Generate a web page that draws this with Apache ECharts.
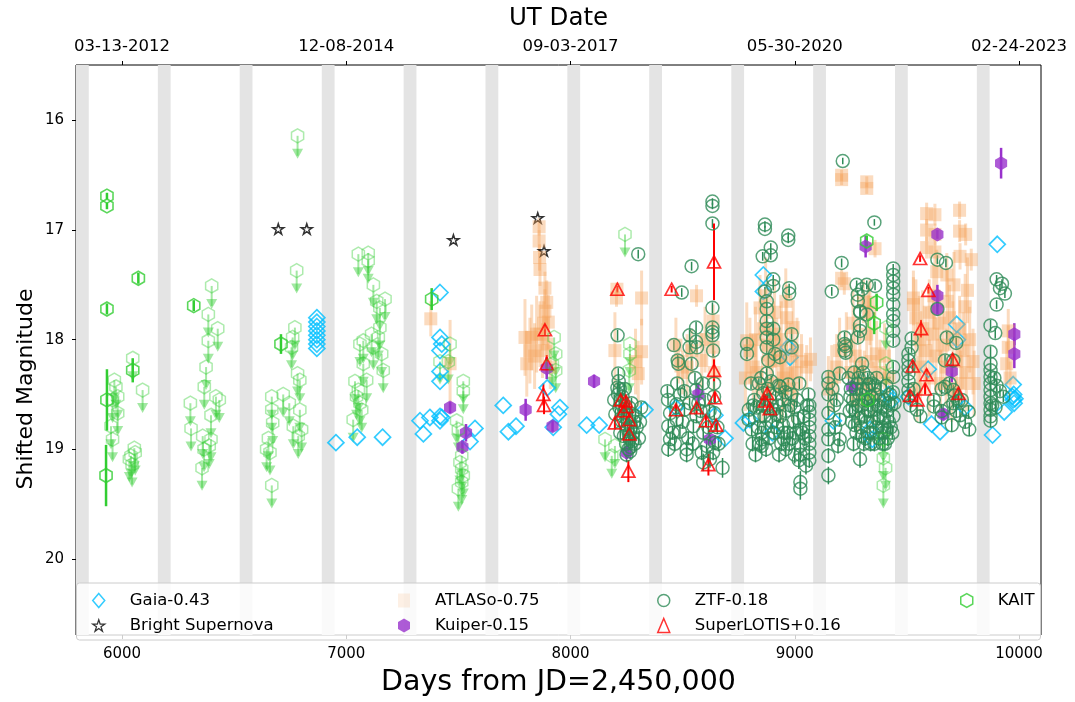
<!DOCTYPE html>
<html>
<head>
<meta charset="utf-8">
<script src="https://cdn.jsdelivr.net/npm/echarts@6/dist/echarts.min.js"></script>
<style>
  html, body { margin: 0; padding: 0; background: #fff; }
  #chart { width: 1075px; height: 702px; }
</style>
</head>
<body>
<div id="chart"></div>
<script>
// axis limits (days from JD 2,450,000 / shifted magnitude)
const xMin = 5795, xMax = 10098;
const yMin = 15.494, yMax = 20.695;

const bottomTicks = [6000, 7000, 8000, 9000, 10000];
const topTickDates = ['03-13-2012', '12-08-2014', '09-03-2017', '05-30-2020', '02-24-2023'];
const magTicks = [16, 17, 18, 19, 20];

// seasonal gaps (start day), each gapLength days wide
const gapStarts = [5795, 6160, 6525, 6891, 7256, 7621, 7986, 8351, 8717, 9082, 9447, 9812];
const gapLength = 57;

// [day, mag]
const gaia = [
  [6869, 17.80], [6869, 17.84], [6869, 17.88], [6869, 17.92], [6869, 17.96], [6869, 18.00], [6869, 18.04], [6869, 18.08],
  [6954, 18.94], [7049, 18.89], [7162, 18.89],
  [7418, 17.57], [7418, 17.98], [7426, 18.04], [7418, 18.10], [7418, 18.29], [7418, 18.38],
  [7329, 18.74], [7344, 18.86], [7373, 18.71], [7418, 18.70], [7418, 18.74], [7426, 18.71], [7574, 18.81], [7552, 18.93],
  [7700, 18.60], [7723, 18.84], [7757, 18.79], [7896, 18.44], [7953, 18.62], [7946, 18.68], [7923, 18.80],
  [8072, 18.78], [8128, 18.78], [8332, 18.64], [8470, 18.62], [8644, 18.69], [8689, 18.90],
  [8860, 17.41], [8860, 17.56], [8971, 18.07], [8979, 18.16], [8800, 18.73], [8771, 18.76], [8900, 18.85],
  [9172, 18.74], [9336, 18.82], [9346, 18.91], [9417, 18.50], [9430, 18.56],
  [9722, 17.86], [9725, 18.00], [9595, 18.27], [9610, 18.77], [9507, 18.52], [9759, 18.62], [9648, 18.84],
  [9903, 17.13], [9882, 18.87], [9934, 18.66], [9974, 18.41], [9970, 18.52], [9974, 18.55], [9978, 18.58], [9982, 18.54], [9976, 18.50]
];

const brightSN = [[6697, 16.99], [6824, 16.99], [7478, 17.09], [7854, 16.89], [7882, 17.19]];

// [day, mag, err]
const atlas = [
  [7377, 17.81, 0.16], [7463, 18.22, 0.40],
  [7860, 16.97, 0.08], [7860, 17.10, 0.10], [7862, 17.25, 0.12], [7864, 17.36, 0.15], [7886, 17.53, 0.15], [7894, 17.66, 0.20],
  [7886, 17.74, 0.20], [7797, 17.98, 0.35], [7819, 18.10, 0.30], [7805, 18.22, 0.30], [7864, 17.95, 0.30], [7901, 17.84, 0.25],
  [7894, 18.04, 0.25], [7849, 17.95, 0.35], [7827, 17.98, 0.30], [7840, 18.15, 0.30], [7875, 18.10, 0.25], [7880, 17.85, 0.20], [7910, 18.25, 0.20],
  [8207, 17.54, 0.06], [8205, 17.62, 0.08], [8198, 18.10, 0.35], [8317, 17.62, 0.25], [8317, 18.11, 0.30], [8302, 18.31, 0.30], [8290, 18.20, 0.30],
  [8481, 18.20, 0.20], [8562, 17.60, 0.10], [8636, 17.83, 0.15], [8636, 18.07, 0.20], [8585, 18.19, 0.25], [8470, 18.05, 0.25],
  [8500, 18.30, 0.20], [8540, 18.10, 0.20], [8600, 18.00, 0.30], [8640, 18.30, 0.20], [8520, 18.25, 0.30],
  [8845, 17.71, 0.30], [8964, 17.80, 0.30], [8993, 17.89, 0.25], [9053, 18.25, 0.20], [8815, 18.25, 0.30], [8786, 18.01, 0.35],
  [8934, 18.19, 0.30], [8964, 18.31, 0.30], [8800, 18.10, 0.30], [8830, 18.30, 0.35], [8860, 17.90, 0.30], [8875, 18.05, 0.30],
  [8890, 18.20, 0.35], [8905, 17.95, 0.30], [8920, 18.10, 0.30], [8940, 18.00, 0.35], [8950, 18.35, 0.30], [8980, 18.15, 0.30],
  [9000, 18.30, 0.30], [9010, 18.10, 0.30], [9030, 18.20, 0.25], [9070, 18.18, 0.20], [8855, 18.45, 0.30], [8900, 18.40, 0.30],
  [8945, 18.45, 0.30], [8990, 18.45, 0.30], [8825, 18.00, 0.30], [8870, 17.60, 0.35], [8910, 17.75, 0.30], [8960, 17.65, 0.30], [8780, 18.35, 0.30],
  [9209, 16.50, 0.05], [9209, 16.54, 0.05], [9321, 16.56, 0.05], [9321, 16.62, 0.05], [9209, 17.44, 0.08], [9358, 17.17, 0.08],
  [9306, 17.65, 0.20], [9321, 17.95, 0.25], [9365, 18.13, 0.30], [9187, 18.25, 0.30], [9165, 18.35, 0.30], [9200, 18.10, 0.30],
  [9230, 18.05, 0.30], [9250, 18.30, 0.30], [9270, 18.15, 0.30], [9290, 18.25, 0.30], [9310, 18.40, 0.30], [9340, 18.20, 0.30],
  [9380, 18.30, 0.30], [9400, 18.15, 0.30], [9420, 18.35, 0.30], [9260, 17.85, 0.30], [9335, 17.75, 0.30], [9350, 18.50, 0.30],
  [9280, 18.55, 0.30], [9150, 18.45, 0.30], [9221, 17.49, 0.10], [9328, 17.66, 0.15],
  [9588, 16.85, 0.10], [9588, 17.00, 0.10], [9588, 17.16, 0.10], [9735, 16.82, 0.08], [9735, 17.01, 0.10], [9737, 17.24, 0.12],
  [9529, 17.62, 0.25], [9529, 17.68, 0.25], [9633, 17.38, 0.20], [9678, 17.41, 0.20], [9625, 16.86, 0.10], [9625, 17.04, 0.10],
  [9625, 17.20, 0.10], [9787, 17.27, 0.10], [9762, 17.04, 0.10],
  [9540, 17.80, 0.35], [9555, 18.00, 0.40], [9570, 17.90, 0.35], [9585, 18.10, 0.40], [9600, 17.75, 0.30], [9615, 17.95, 0.35],
  [9630, 18.15, 0.35], [9645, 17.85, 0.30], [9660, 18.05, 0.35], [9675, 18.25, 0.35], [9690, 17.80, 0.30], [9705, 18.00, 0.35],
  [9720, 18.20, 0.35], [9735, 17.90, 0.30], [9750, 18.10, 0.35], [9765, 18.30, 0.35], [9780, 18.00, 0.30], [9795, 18.20, 0.30],
  [9560, 18.25, 0.35], [9600, 18.35, 0.35], [9650, 18.40, 0.30], [9700, 18.45, 0.30], [9740, 18.40, 0.30], [9620, 17.60, 0.30],
  [9680, 17.65, 0.30], [9760, 17.70, 0.30], [9800, 18.40, 0.30], [9545, 18.45, 0.30], [9770, 17.55, 0.30], [9710, 17.50, 0.30],
  [9952, 17.92, 0.20], [9952, 18.07, 0.20], [9945, 18.22, 0.20], [9960, 18.35, 0.15]
];

const kuiper = [
  [7463, 18.62, 0.05], [7534, 18.85, 0.08], [7518, 18.98, 0.06], [7800, 18.64, 0.10], [7894, 18.26, 0.10], [7920, 18.79, 0.05],
  [8105, 18.38, 0.06], [8250, 19.03, 0.06], [8570, 18.50, 0.10], [8622, 18.91, 0.04],
  [9316, 17.15, 0.10], [9256, 18.43, 0.05],
  [9636, 17.04, 0.04], [9636, 17.60, 0.10], [9636, 17.72, 0.05], [9700, 18.29, 0.10], [9663, 18.68, 0.05],
  [9920, 16.39, 0.14], [9979, 17.95, 0.10], [9979, 18.13, 0.13]
];

const ztf = [
  // 2018 season
  [8302, 17.22, 0.04], [8210, 17.96, 0.05], [8213, 18.31, 0.05], [8215, 18.38, 0.05], [8220, 18.45, 0.05], [8212, 18.50, 0.05],
  [8225, 18.55, 0.05], [8230, 18.60, 0.05], [8218, 18.62, 0.05], [8240, 18.66, 0.05], [8235, 18.70, 0.05], [8228, 18.74, 0.05],
  [8245, 18.78, 0.06], [8250, 18.72, 0.05], [8255, 18.82, 0.06], [8260, 18.86, 0.06], [8265, 18.90, 0.06], [8270, 18.80, 0.05],
  [8275, 18.93, 0.06], [8248, 18.95, 0.06], [8258, 19.00, 0.07], [8268, 18.98, 0.07], [8280, 18.85, 0.06], [8285, 18.75, 0.05],
  [8290, 18.70, 0.05], [8222, 18.85, 0.06], [8238, 18.88, 0.06], [8262, 18.62, 0.05], [8272, 18.58, 0.05], [8276, 18.68, 0.05],
  [8209, 18.44, 0.05], [8232, 18.52, 0.05], [8242, 18.45, 0.05], [8286, 18.95, 0.06], [8295, 18.80, 0.06], [8250, 19.05, 0.07],
  [8266, 19.02, 0.07], [8195, 18.55, 0.05], [8200, 18.68, 0.05], [8310, 18.75, 0.05], [8315, 18.62, 0.05], [8305, 18.90, 0.06],
  // 2019 season
  [8540, 17.33, 0.04], [8633, 16.74, 0.03], [8633, 16.78, 0.03], [8633, 16.94, 0.04], [8496, 17.57, 0.04], [8560, 17.89, 0.05],
  [8531, 17.96, 0.05], [8560, 18.02, 0.05], [8531, 18.07, 0.05], [8564, 18.07, 0.05], [8461, 18.05, 0.05], [8478, 18.19, 0.05],
  [8481, 18.22, 0.05], [8540, 18.22, 0.05], [8432, 18.47, 0.05], [8476, 18.40, 0.05], [8508, 18.47, 0.05], [8560, 18.46, 0.05],
  [8473, 18.59, 0.05], [8444, 18.67, 0.06], [8436, 18.79, 0.06], [8444, 18.91, 0.06], [8436, 19.00, 0.07], [8488, 18.84, 0.06],
  [8525, 18.90, 0.06], [8518, 19.00, 0.07], [8518, 19.05, 0.07], [8562, 18.70, 0.06], [8592, 18.85, 0.06], [8607, 18.97, 0.07],
  [8585, 19.03, 0.07], [8592, 19.12, 0.08], [8633, 17.71, 0.05], [8633, 17.89, 0.05], [8633, 17.93, 0.05], [8633, 17.96, 0.05],
  [8636, 18.10, 0.05], [8640, 18.40, 0.05], [8640, 18.52, 0.05], [8641, 18.67, 0.06], [8636, 19.03, 0.07], [8678, 19.17, 0.09],
  [8622, 19.09, 0.08], [8644, 18.94, 0.07], [8435, 18.55, 0.05], [8473, 18.73, 0.06], [8548, 18.79, 0.06], [8531, 18.58, 0.05],
  [8508, 18.64, 0.06], [8570, 18.58, 0.05], [8455, 18.85, 0.06], [8500, 18.75, 0.06], [8580, 18.65, 0.06], [8615, 18.80, 0.06],
  [8600, 18.55, 0.05], [8545, 18.95, 0.07], [8465, 18.95, 0.07], [8620, 18.65, 0.06], [8655, 18.80, 0.06], [8660, 18.95, 0.07],
  [8490, 18.50, 0.05], [8555, 18.35, 0.05], [8590, 18.40, 0.05],
  // 2020 season
  [8867, 16.95, 0.03], [8867, 16.99, 0.03], [8971, 17.05, 0.03], [8971, 17.09, 0.03], [8893, 17.16, 0.04], [8893, 17.23, 0.04],
  [8857, 17.24, 0.04], [8904, 17.45, 0.04], [8904, 17.51, 0.04], [8975, 17.53, 0.04], [8975, 17.58, 0.04], [8867, 17.56, 0.04],
  [8875, 17.65, 0.05], [8875, 17.72, 0.05], [8875, 17.83, 0.05], [8875, 17.90, 0.05], [8875, 17.98, 0.05], [8875, 18.07, 0.05],
  [8882, 18.19, 0.05], [8875, 18.31, 0.05], [8904, 17.90, 0.05], [8904, 18.00, 0.05], [8912, 18.13, 0.05], [8934, 18.16, 0.05],
  [8986, 17.95, 0.05], [8986, 18.07, 0.05], [8934, 18.43, 0.05], [8971, 18.41, 0.05], [9061, 18.50, 0.05], [9065, 18.60, 0.05],
  [9065, 18.66, 0.05], [9065, 18.73, 0.06], [9065, 18.80, 0.06], [9065, 18.88, 0.06], [9065, 18.95, 0.06], [9065, 19.03, 0.07],
  [9065, 19.10, 0.07], [9025, 18.82, 0.06], [9025, 18.97, 0.07], [9025, 19.05, 0.07], [9025, 19.30, 0.10], [9025, 19.36, 0.10],
  [8852, 18.91, 0.06], [8852, 18.97, 0.06], [8952, 18.85, 0.06], [8952, 18.91, 0.06], [8904, 18.64, 0.05], [8860, 18.49, 0.05],
  [8787, 18.04, 0.05], [8787, 18.13, 0.05], [8795, 18.64, 0.06], [8795, 18.73, 0.06], [8840, 18.40, 0.05], [8852, 18.85, 0.06],
  [8808, 18.82, 0.06], [8820, 18.55, 0.05], [8830, 18.62, 0.05], [8845, 18.70, 0.05], [8860, 18.60, 0.05], [8880, 18.45, 0.05],
  [8890, 18.55, 0.05], [8900, 18.75, 0.06], [8915, 18.50, 0.05], [8925, 18.60, 0.05], [8935, 18.70, 0.06], [8945, 18.55, 0.05],
  [8960, 18.65, 0.06], [8980, 18.60, 0.06], [8995, 18.75, 0.06], [9005, 18.85, 0.06], [9010, 18.55, 0.06], [9040, 18.70, 0.06],
  [9045, 18.90, 0.07], [8870, 18.80, 0.06], [8885, 18.90, 0.06], [8920, 18.80, 0.06], [8940, 18.95, 0.07], [8960, 19.00, 0.07],
  [8990, 18.90, 0.07], [9000, 19.05, 0.08], [9050, 19.15, 0.08], [8812, 18.95, 0.07], [8825, 19.05, 0.07],
  [8805, 18.40, 0.05], [8815, 18.60, 0.05], [8835, 18.80, 0.06], [8850, 18.35, 0.05], [8865, 18.70, 0.06], [8878, 18.62, 0.05],
  [8895, 18.38, 0.05], [8908, 18.85, 0.06], [8918, 18.68, 0.06], [8928, 18.42, 0.05], [8948, 18.78, 0.06], [8958, 18.48, 0.05],
  [8968, 18.85, 0.06], [8985, 18.50, 0.05], [8998, 18.62, 0.06], [9015, 18.72, 0.06], [9020, 18.40, 0.05], [9035, 18.85, 0.06],
  [9055, 18.60, 0.06], [8842, 18.95, 0.07], [8872, 19.00, 0.07], [8930, 19.05, 0.07], [8975, 18.95, 0.07], [9018, 19.10, 0.08],
  // 2021 season
  [9214, 16.37, 0.03], [9355, 16.93, 0.03], [9209, 17.30, 0.04], [9165, 17.56, 0.04], [9291, 19.09, 0.08], [9150, 19.24, 0.08],
  [9276, 17.50, 0.04], [9321, 17.50, 0.04], [9358, 17.51, 0.04], [9281, 17.59, 0.04], [9281, 17.65, 0.04], [9291, 17.74, 0.05],
  [9321, 17.77, 0.05], [9291, 17.87, 0.05], [9291, 17.92, 0.05], [9281, 17.98, 0.05], [9222, 17.98, 0.05], [9222, 18.04, 0.05],
  [9222, 18.10, 0.05], [9200, 18.31, 0.05], [9150, 18.34, 0.05], [9150, 18.40, 0.05], [9150, 18.50, 0.05], [9150, 18.67, 0.06],
  [9150, 18.82, 0.06], [9150, 18.91, 0.06], [9150, 19.06, 0.07], [9187, 18.55, 0.05], [9200, 18.73, 0.06], [9200, 18.91, 0.06],
  [9193, 18.97, 0.07], [9439, 17.35, 0.04], [9439, 17.41, 0.04], [9439, 17.47, 0.04], [9439, 17.53, 0.04], [9439, 17.59, 0.04],
  [9439, 17.68, 0.05], [9439, 17.77, 0.05], [9439, 17.83, 0.05], [9439, 17.92, 0.05], [9439, 18.01, 0.05], [9439, 18.25, 0.05],
  [9439, 18.34, 0.05], [9300, 17.54, 0.04], [9292, 17.75, 0.05], [9227, 18.06, 0.05], [9227, 18.12, 0.05], [9300, 18.22, 0.05],
  [9330, 18.41, 0.05], [9250, 18.45, 0.05], [9260, 18.55, 0.05], [9270, 18.65, 0.06], [9280, 18.40, 0.05], [9290, 18.50, 0.05],
  [9300, 18.60, 0.05], [9310, 18.70, 0.06], [9320, 18.45, 0.05], [9330, 18.55, 0.05], [9340, 18.65, 0.06], [9350, 18.75, 0.06],
  [9360, 18.50, 0.05], [9370, 18.60, 0.05], [9380, 18.70, 0.06], [9390, 18.80, 0.06], [9400, 18.55, 0.05], [9410, 18.65, 0.06],
  [9420, 18.75, 0.06], [9430, 18.60, 0.05], [9440, 18.70, 0.06], [9255, 18.75, 0.06], [9275, 18.85, 0.06], [9295, 18.80, 0.06],
  [9315, 18.90, 0.07], [9335, 18.85, 0.06], [9355, 18.95, 0.07], [9375, 18.90, 0.07], [9395, 18.85, 0.06], [9415, 18.90, 0.07],
  [9265, 18.30, 0.05], [9285, 18.35, 0.05], [9305, 18.30, 0.05], [9325, 18.35, 0.05], [9345, 18.40, 0.05], [9365, 18.35, 0.05],
  [9245, 18.65, 0.06], [9262, 18.95, 0.07], [9282, 18.60, 0.05], [9302, 18.45, 0.05], [9322, 18.75, 0.06], [9342, 18.52, 0.05],
  [9362, 18.80, 0.06], [9382, 18.45, 0.05], [9402, 18.95, 0.07], [9425, 18.50, 0.05], [9435, 18.85, 0.06], [9445, 18.58, 0.05],
  [9240, 18.35, 0.05], [9258, 18.62, 0.05], [9272, 18.45, 0.05], [9288, 18.72, 0.06], [9298, 18.88, 0.06], [9312, 18.55, 0.05],
  [9328, 18.65, 0.06], [9338, 18.95, 0.07], [9348, 18.60, 0.05], [9358, 18.42, 0.05], [9368, 18.72, 0.06], [9378, 18.55, 0.05],
  [9388, 18.62, 0.05], [9398, 18.72, 0.06], [9408, 18.42, 0.05], [9418, 18.58, 0.05], [9428, 18.80, 0.06], [9438, 18.48, 0.05],
  [9248, 18.52, 0.05], [9268, 18.78, 0.06], [9308, 18.95, 0.07], [9352, 18.85, 0.06], [9392, 18.95, 0.07], [9412, 18.82, 0.06],
  [9175, 18.60, 0.05], [9180, 18.80, 0.06], [9168, 18.45, 0.05],
  // 2022 season
  [9521, 17.99, 0.05], [9521, 18.07, 0.05], [9507, 18.13, 0.05], [9507, 18.19, 0.05], [9507, 18.25, 0.05], [9507, 18.31, 0.05],
  [9507, 18.38, 0.05], [9507, 18.46, 0.05], [9507, 18.52, 0.05], [9545, 18.64, 0.06], [9636, 17.27, 0.04], [9636, 17.72, 0.04],
  [9678, 17.98, 0.05], [9670, 18.19, 0.05], [9707, 18.19, 0.05], [9670, 18.43, 0.05], [9707, 18.46, 0.05], [9729, 18.56, 0.05],
  [9737, 18.69, 0.06], [9707, 18.58, 0.05], [9620, 18.55, 0.05], [9620, 18.61, 0.05], [9700, 18.78, 0.06], [9674, 17.30, 0.04],
  [9720, 18.03, 0.05], [9655, 18.65, 0.06], [9655, 18.71, 0.06], [9775, 18.66, 0.06], [9778, 18.82, 0.06], [9714, 18.51, 0.05],
  [9515, 18.60, 0.05], [9530, 18.45, 0.05], [9560, 18.70, 0.06], [9690, 18.40, 0.05], [9720, 18.65, 0.06], [9745, 18.55, 0.05],
  [9690, 18.62, 0.05], [9655, 18.45, 0.05], [9760, 18.75, 0.06],
  // 2023 season
  [9900, 17.45, 0.04], [9915, 17.53, 0.04], [9900, 17.68, 0.04], [9924, 17.49, 0.04], [9937, 17.58, 0.04], [9873, 17.87, 0.05],
  [9873, 18.11, 0.05], [9873, 18.22, 0.05], [9873, 18.28, 0.05], [9873, 18.34, 0.05], [9873, 18.40, 0.05], [9873, 18.46, 0.05],
  [9873, 18.52, 0.05], [9873, 18.58, 0.05], [9873, 18.64, 0.06], [9873, 18.70, 0.06], [9873, 18.74, 0.06], [9890, 18.35, 0.05],
  [9900, 18.42, 0.05], [9915, 18.47, 0.05], [9930, 18.52, 0.05], [9880, 18.60, 0.05], [9895, 18.62, 0.05], [9894, 17.94, 0.05]
];

const superLotis = [
  [7886, 17.91, 0.05], [7894, 18.22, 0.08], [7879, 18.50, 0.10], [7882, 18.60, 0.08],
  [8209, 17.54, 0.03], [8224, 18.55, 0.05], [8247, 18.56, 0.05], [8236, 18.65, 0.05], [8262, 18.73, 0.05], [8198, 18.76, 0.05],
  [8262, 18.86, 0.05], [8250, 18.61, 0.05], [8258, 19.20, 0.10],
  [8451, 17.54, 0.03], [8470, 18.64, 0.05], [8562, 18.62, 0.05], [8604, 18.74, 0.05], [8649, 18.78, 0.05], [8615, 19.14, 0.10],
  [8640, 17.29, 0.35], [8640, 18.28, 0.10], [8644, 18.53, 0.05],
  [8877, 18.49, 0.05], [8889, 18.63, 0.05], [8867, 18.56, 0.05],
  [9559, 17.26, 0.03], [9596, 17.55, 0.03], [9563, 17.90, 0.08], [9526, 18.24, 0.05], [9588, 18.32, 0.05], [9581, 18.45, 0.05],
  [9514, 18.51, 0.05], [9547, 18.55, 0.05], [9704, 18.18, 0.05], [9730, 18.49, 0.05]
];

const kaitDetections = [
  [5933, 16.69, 0.03], [5933, 16.78, 0.03], [5933, 17.72, 0.05], [6073, 17.44, 0.05], [5933, 18.55, 0.28], [5929, 19.24, 0.28],
  [6048, 18.28, 0.11], [6320, 17.69, 0.05], [6709, 18.04, 0.09], [7381, 17.63, 0.10],
  [9321, 17.10, 0.05], [9365, 17.66, 0.08], [9354, 17.85, 0.10], [9325, 18.55, 0.05]
];

// [day, limiting mag]
const kaitLimits = [
  [5966, 18.37], [5973, 18.43], [5958, 18.55], [5981, 18.52], [5981, 18.67], [5951, 18.79], [5958, 18.91], [6048, 18.17],
  [6092, 18.46], [6055, 18.99], [6040, 19.06], [6059, 19.03], [6033, 19.09], [6045, 19.14],
  [6400, 17.51], [6385, 17.77], [6427, 17.90], [6385, 18.01], [6375, 18.25], [6367, 18.43], [6305, 18.58], [6308, 18.81],
  [6419, 18.52], [6434, 18.55], [6397, 18.69], [6360, 18.88], [6397, 18.91], [6389, 18.97], [6357, 19.17], [6366, 19.00],
  [6783, 16.14], [6779, 17.37], [6771, 17.89], [6761, 17.98], [6756, 18.07], [6783, 18.31], [6793, 18.37], [6668, 18.52],
  [6719, 18.50], [6746, 18.58], [6793, 18.64], [6764, 18.79], [6786, 18.88], [6801, 18.82], [6668, 18.64], [6653, 18.90],
  [6645, 19.00], [6660, 19.03], [6668, 19.33], [6672, 18.76],
  [7054, 17.22], [7098, 17.21], [7098, 17.28], [7121, 17.50], [7173, 17.63], [7136, 17.65], [7150, 17.71], [7113, 17.95],
  [7061, 18.04], [7076, 18.01], [7039, 18.38], [7054, 18.46], [7061, 18.58], [7091, 18.37], [7158, 18.13], [7165, 18.28],
  [7031, 18.73], [7069, 18.64], [7143, 17.98], [7150, 17.89], [7076, 18.22], [7046, 18.52], [7121, 18.07],
  [7463, 18.04], [7455, 18.20], [7522, 18.38], [7522, 18.47], [7492, 18.74], [7500, 18.82], [7515, 19.06], [7515, 19.18],
  [7515, 19.30], [7507, 19.12], [7522, 19.24], [7500, 19.36], [7418, 18.20],
  [7927, 17.98], [7934, 18.13], [7934, 18.28], [7919, 18.22],
  [8243, 17.04], [8265, 18.04], [8265, 18.13], [8262, 18.28], [8154, 18.91], [8184, 19.06], [8198, 18.97],
  [9407, 17.89], [9407, 18.22], [9395, 18.91], [9395, 19.08], [9395, 19.33], [9405, 19.17]
];

const COLORS = {
  gaia: '#00bfff', bsn: '#000000', atlas: '#f4a460', kuiper: '#9932cc',
  ztf: '#2e8b57', lotis: '#ff0000', kait: '#32cd32', gap: '#e4e4e4'
};
const FONT = 'DejaVu Sans';
const HEX = 'path://M0,-1L0.866,-0.5L0.866,0.5L0,1L-0.866,0.5L-0.866,-0.5Z';
const STAR = 'path://M0,-1L0.225,-0.309L0.951,-0.309L0.363,0.118L0.588,0.809L0,0.382L-0.588,0.809L-0.363,0.118L-0.951,-0.309L-0.225,-0.309Z';

function errBars(data, color, width, opacity) {
  return {
    type: 'custom', silent: true, clip: true,
    data: data,
    encode: { x: 0, y: 1 },
    renderItem: function (params, api) {
      const x = api.value(0), y = api.value(1), e = api.value(2);
      const a = api.coord([x, y - e]);
      const b = api.coord([x, y + e]);
      return {
        type: 'line',
        shape: { x1: a[0], y1: a[1], x2: b[0], y2: b[1] },
        style: { stroke: color, lineWidth: width, opacity: opacity }
      };
    }
  };
}

function markers(name, data, symbol, size, itemStyle) {
  return {
    type: 'scatter', name: name, data: data,
    symbol: symbol, symbolSize: size, symbolKeepAspect: true,
    itemStyle: itemStyle, emphasis: { disabled: true }, clip: true
  };
}

function openStyle(color, width) {
  return { color: 'transparent', borderColor: color, borderWidth: width };
}

const chart = echarts.init(document.getElementById('chart'));

const legendBase = {
  orient: 'vertical', padding: 0, itemGap: 8, itemWidth: 12, itemHeight: 14, zlevel: 1, z: 60,
  selectedMode: false,
  textStyle: { fontFamily: FONT, fontSize: 16.5, color: '#000', lineHeight: 17, padding: [0, 0, 0, 20] }
};

const plainNumber = (v) => String(v);

const option = {
  animation: false,
  backgroundColor: '#fff',
  textStyle: { fontFamily: FONT },
  grid: { left: 76, right: 34, top: 65, bottom: 61, show: true, borderColor: '#000', borderWidth: 1, backgroundColor: 'transparent' },
  xAxis: [
    {
      type: 'value', min: xMin, max: xMax, position: 'bottom',
      axisLine: { show: false }, splitLine: { show: false },
      axisTick: { show: true, length: 4, customValues: bottomTicks, lineStyle: { color: '#000' } },
      axisLabel: { customValues: bottomTicks, fontSize: 15, color: '#000', margin: 12, fontFamily: FONT, formatter: plainNumber },
      name: 'Days from JD=2,450,000', nameLocation: 'middle', nameGap: 33,
      nameTextStyle: { fontSize: 28.5, color: '#000', fontFamily: FONT }
    },
    {
      type: 'value', min: xMin, max: xMax, position: 'top',
      axisLine: { show: false }, splitLine: { show: false },
      axisTick: { show: true, length: 4, customValues: bottomTicks, lineStyle: { color: '#000' } },
      axisLabel: {
        customValues: bottomTicks, fontSize: 16.5, color: '#000', margin: 10, fontFamily: FONT,
        formatter: function (v) { return topTickDates[bottomTicks.indexOf(v)] || ''; }
      },
      name: 'UT Date', nameLocation: 'middle', nameGap: 34,
      nameTextStyle: { fontSize: 24.5, color: '#000', fontFamily: FONT }
    }
  ],
  yAxis: {
    type: 'value', min: yMin, max: yMax, inverse: true,
    axisLine: { show: false }, splitLine: { show: false },
    axisTick: { show: true, length: 4, customValues: magTicks, lineStyle: { color: '#000' } },
    axisLabel: { customValues: magTicks, fontSize: 15, color: '#000', margin: 12, fontFamily: FONT, formatter: plainNumber }
  },
  graphic: [
    {
      type: 'rect', zlevel: 1, z: 50, silent: true,
      shape: { x: 76.5, y: 583, width: 964, height: 57, r: 3 },
      style: { fill: 'rgba(255,255,255,0.8)', stroke: '#cccccc', lineWidth: 1 }
    },
    {
      type: 'text', x: 26, y: 389, rotation: Math.PI / 2, silent: true,
      style: { text: 'Shifted Magnitude', fontSize: 22, fontFamily: FONT, fill: '#000', align: 'center', verticalAlign: 'middle' }
    }
  ],
  legend: [
    Object.assign({}, legendBase, { left: 92, top: 592, data: [
      { name: 'Gaia-0.43', icon: 'diamond', itemStyle: openStyle(COLORS.gaia, 1.5) },
      { name: 'Bright Supernova', icon: STAR, itemStyle: openStyle(COLORS.bsn, 1.3) }
    ] }),
    Object.assign({}, legendBase, { left: 398, top: 592, data: [
      { name: 'ATLASo-0.75', icon: 'rect', itemStyle: { color: 'rgba(244,164,96,0.4)' } },
      { name: 'Kuiper-0.15', icon: HEX, itemStyle: { color: COLORS.kuiper } }
    ] }),
    Object.assign({}, legendBase, { left: 657, top: 592, data: [
      { name: 'ZTF-0.18', icon: 'circle', itemStyle: openStyle(COLORS.ztf, 1.5) },
      { name: 'SuperLOTIS+0.16', icon: 'triangle', itemStyle: openStyle(COLORS.lotis, 1.5) }
    ] }),
    Object.assign({}, legendBase, { left: 960, top: 592, data: [
      { name: 'KAIT', icon: HEX, itemStyle: openStyle(COLORS.kait, 1.5) }
    ] })
  ],
  series: [
    {
      type: 'custom', silent: true, clip: true,
      data: gapStarts,
      renderItem: function (params, api) {
        const s = api.value(0);
        const a = api.coord([s, yMin]);
        const b = api.coord([s + gapLength, yMax]);
        return {
          type: 'rect',
          shape: { x: a[0], y: Math.min(a[1], b[1]), width: b[0] - a[0], height: Math.abs(b[1] - a[1]) },
          style: { fill: COLORS.gap }
        };
      }
    },
    markers('Gaia-0.43', gaia, 'diamond', [16, 16], openStyle(COLORS.gaia, 1.7)),
    markers('Bright Supernova', brightSN, STAR, 11, openStyle(COLORS.bsn, 1.5)),
    errBars(atlas, COLORS.atlas, 3, 0.4),
    markers('ATLASo-0.75', atlas, 'rect', 13, { color: COLORS.atlas, opacity: 0.4 }),
    errBars(kuiper, COLORS.kuiper, 2.5, 1),
    markers('Kuiper-0.15', kuiper, HEX, 14, { color: COLORS.kuiper }),
    errBars(ztf, COLORS.ztf, 1.5, 1),
    markers('ZTF-0.18', ztf, 'circle', 13, openStyle(COLORS.ztf, 1.5)),
    errBars(superLotis, COLORS.lotis, 2, 1),
    markers('SuperLOTIS+0.16', superLotis, 'triangle', [13, 12], openStyle(COLORS.lotis, 1.7)),
    {
      type: 'custom', silent: true, clip: true,
      data: kaitLimits,
      encode: { x: 0, y: 1 },
      renderItem: function (params, api) {
        const p = api.coord([api.value(0), api.value(1)]);
        return {
          type: 'group',
          children: [
            { type: 'line', shape: { x1: p[0], y1: p[1], x2: p[0], y2: p[1] + 20 },
              style: { stroke: COLORS.kait, lineWidth: 2, opacity: 0.45 } },
            { type: 'polygon', shape: { points: [[p[0] - 5.5, p[1] + 13], [p[0] + 5.5, p[1] + 13], [p[0], p[1] + 23]] },
              style: { fill: COLORS.kait, opacity: 0.45 } }
          ]
        };
      }
    },
    markers('KAIT limits', kaitLimits, HEX, 14, { color: 'transparent', borderColor: COLORS.kait, borderWidth: 1.5, opacity: 0.4 }),
    errBars(kaitDetections, COLORS.kait, 2.5, 1),
    markers('KAIT', kaitDetections, HEX, 14, openStyle(COLORS.kait, 1.6))
  ]
};

chart.setOption(option);
window.addEventListener('resize', () => chart.resize());
</script>
</body>
</html>
